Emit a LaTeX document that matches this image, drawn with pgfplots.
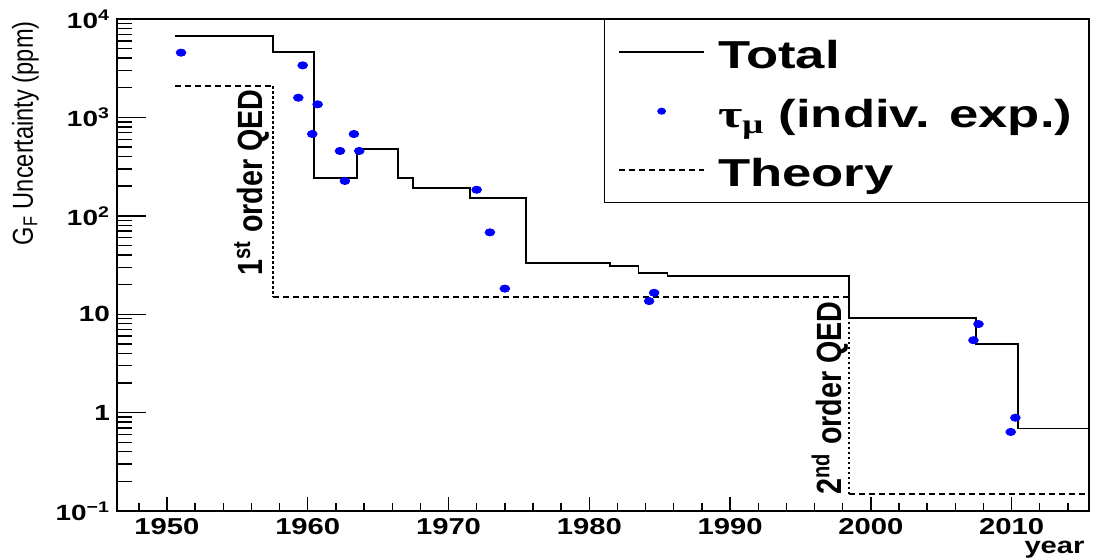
\documentclass[border=0pt]{standalone}
\usepackage{fontspec}
\setmainfont{Liberation Sans}[FakeStretch=1.27]
\newfontfamily\rotfont{Liberation Sans}[FakeStretch=0.82]
\newfontfamily\legfont{Liberation Sans}[FakeStretch=1.35]
\newfontfamily\greekfont{Liberation Serif}[FakeStretch=1.35]
\usepackage{pgfplots}
\pgfplotsset{compat=1.18}
\pgfplotsset{
  linelegend/.style={legend image code/.code={\draw[##1] (0pt,0pt) -- (42.5pt,0pt);}},
  dotlegend/.style={legend image code/.code={\draw[##1] plot coordinates {(21.25pt,0pt)};}},
}
\begin{document}
\begin{tikzpicture}
\begin{axis}[
  scale only axis, width=486pt, height=246pt,
  ymode=log,
  xmin=1946.45, xmax=2015.5, ymin=0.1, ymax=10000,
  axis line style={line width=0.9pt},
  tick style={black, line width=0.7pt},
  tick pos=left, tick align=inside,
  major tick length=7pt, minor tick length=7.5pt,
  xtick={1950,1960,1970,1980,1990,2000,2010},
  xticklabels={1950,1960,1970,1980,1990,2000,2010},
  extra x ticks={1948,1952,1954,1956,1958,1962,1964,1966,1968,1972,1974,1976,1978,1982,1984,1986,1988,1992,1994,1996,1998,2002,2004,2006,2008,2012,2014},
  extra x tick labels={},
  extra x tick style={major tick length=3.8pt},
  ytick={0.1,1,10,100,1000,10000},
  yticklabels={10\textsuperscript{−1},1,10,10\textsuperscript{2},10\textsuperscript{3},10\textsuperscript{4}},
  extra y ticks={0.1,1,10,100,1000,10000},
  extra y tick labels={},
  extra y tick style={major tick length=14.5pt},
  xticklabel style={font=\bfseries\fontsize{11.5}{12}\selectfont},
  yticklabel style={font=\bfseries\fontsize{11}{12}\selectfont},
  legend style={at={(1,1)}, anchor=north east, draw=black, line width=0.7pt, fill=white,
    inner xsep=7pt, inner ysep=6pt, row sep=9pt, column sep=5.5pt,
    nodes={inner sep=1pt, text height=17.5pt, text depth=1pt, font=\legfont\bfseries\fontsize{19.5}{20}\selectfont}},
  legend cell align=left,
]
\addlegendimage{black, line width=0.9pt, linelegend}
\addlegendentry{Total}
\addlegendimage{blue, mark=*, mark size=1.4pt, mark options={fill=blue, draw=blue, xscale=1.3}, dotlegend}
\addlegendentry{{\greekfont τ}\textsubscript{\greekfont μ} (indiv. exp.)}
\addlegendimage{black, line width=0.9pt, dash pattern=on 3pt off 2pt, linelegend}
\addlegendentry{Theory}

% Theory: horizontal dashed segments
\addplot[black, line width=1pt, dash pattern=on 3pt off 2pt, forget plot] coordinates {(1950.57,2080) (1957.55,2080)};
\addplot[black, line width=1pt, dash pattern=on 3pt off 2pt, forget plot] coordinates {(1957.55,15.1) (1998.45,15.1)};
\addplot[black, line width=1pt, dash pattern=on 3pt off 2pt, forget plot] coordinates {(1998.45,0.149) (2015.5,0.149)};
% Theory: vertical dotted segments
\addplot[black, line width=1.1pt, dash pattern=on 1.2pt off 1.3pt, forget plot] coordinates {(1957.55,2080) (1957.55,15.1)};
\addplot[black, line width=1.1pt, dash pattern=on 1.2pt off 1.3pt, forget plot] coordinates {(1998.45,15.1) (1998.45,0.149)};

% Total
\addplot[black, line width=0.9pt, forget plot] coordinates {
(1950.57,6700)(1957.55,6700)(1957.55,4580)(1960.46,4580)(1960.46,240)(1963.52,240)
(1963.52,475)(1966.4,475)(1966.4,240)(1967.5,240)(1967.5,193)(1971.5,193)(1971.5,151)
(1975.5,151)(1975.5,32.9)(1981.46,32.9)(1981.46,30.9)(1983.5,30.9)(1983.5,26.4)
(1985.55,26.4)(1985.55,24.4)(1998.45,24.4)(1998.45,9.2)(2007.46,9.2)(2007.46,4.94)
(2010.46,4.94)(2010.46,0.69)(2015.5,0.69)};

% tau_mu individual experiments
\addplot[only marks, mark=*, mark size=1.8pt, mark options={fill=blue, draw=blue, xscale=1.35}, forget plot] coordinates {
(1951.0,4550)(1959.64,3380)(1959.33,1585)(1960.7,1358)(1960.32,678)(1963.28,678)
(1962.29,456)(1963.66,456)(1962.64,226)(1972.0,184)(1972.94,67.9)(1974.0,18.2)
(1984.61,16.5)(1984.25,13.6)(2007.65,7.94)(2007.29,5.44)(2010.27,0.887)(2009.94,0.636)};

\node[rotate=90, anchor=base, inner sep=0pt, font=\rotfont\bfseries\fontsize{17.5}{18}\selectfont] at (axis cs:1956.8,218) {1\textsuperscript{st} order QED};
\node[rotate=90, anchor=base, inner sep=0pt, font=\rotfont\bfseries\fontsize{17.5}{18}\selectfont] at (axis cs:1997.95,1.41) {2\textsuperscript{nd} order QED};

\coordinate (bl) at (rel axis cs:0,0);
\coordinate (tr) at (rel axis cs:1,1);
\coordinate (tl) at (rel axis cs:0,1);
\coordinate (br) at (rel axis cs:1,0);
\end{axis}
\node[rotate=90, anchor=base east, inner sep=0pt, font=\rotfont\fontsize{14.4}{15}\selectfont] at ([xshift=-42pt,yshift=-1pt]tl) {G\textsubscript{F} Uncertainty (ppm)};
\node[anchor=base east, inner sep=0pt, font=\bfseries\fontsize{11.5}{12}\selectfont] at ([xshift=-2pt,yshift=-21pt]br) {year};
\pgfresetboundingbox
\path ([shift={(-58.5pt,-24pt)}]bl) rectangle ([shift={(5pt,9.5pt)}]tr);
\end{tikzpicture}
\end{document}
